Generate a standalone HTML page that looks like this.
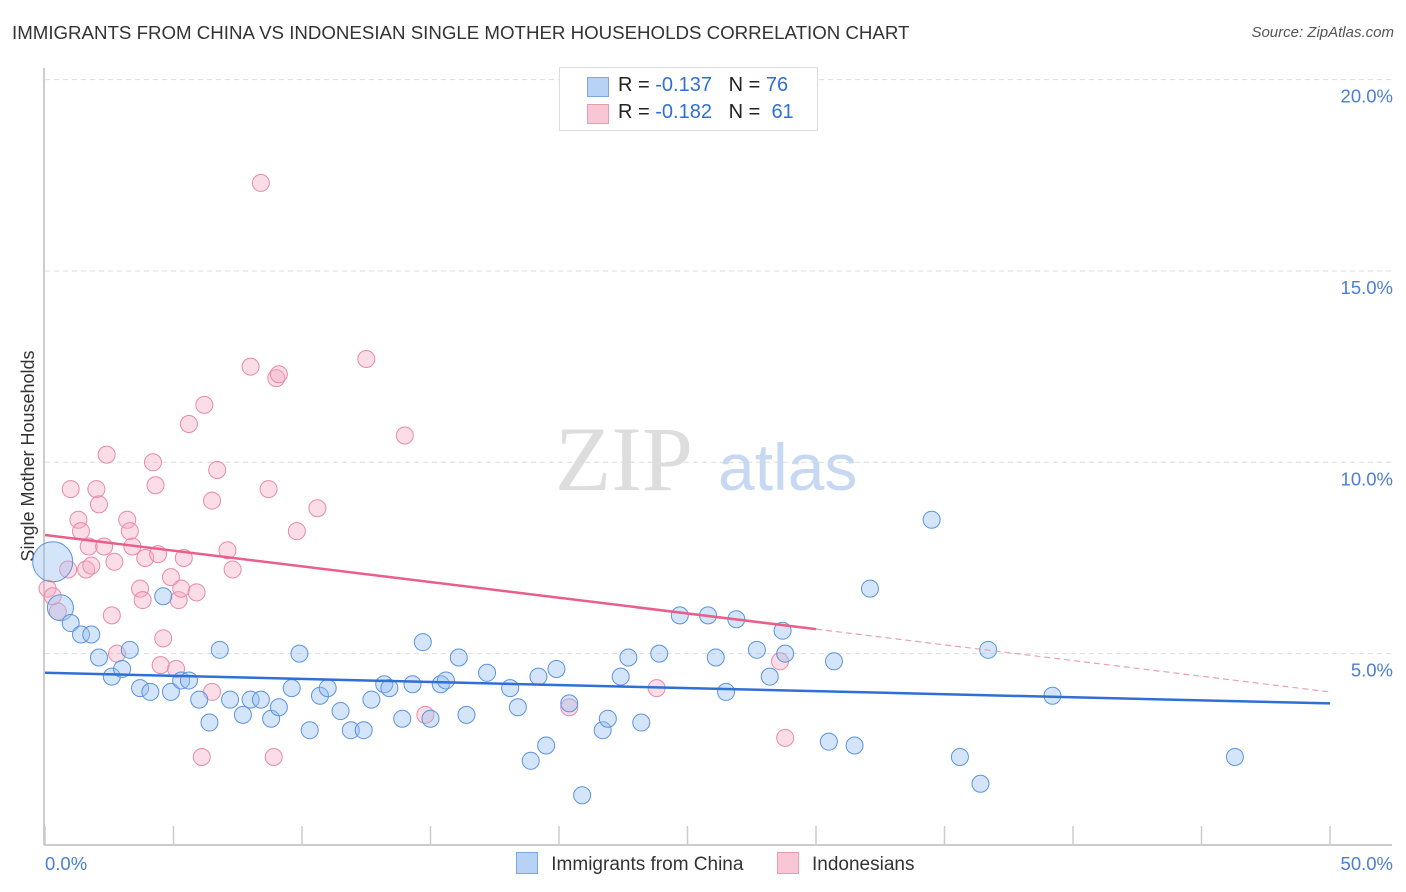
<!DOCTYPE html>
<html><head><meta charset="utf-8">
<style>
body{margin:0;background:#fff;font-family:"Liberation Sans",sans-serif;}
#wrap{position:relative;width:1406px;height:892px;overflow:hidden;}
.t{position:absolute;white-space:nowrap;}
</style></head>
<body>
<div id="wrap">
<div class="t" style="left:12px;top:22px;font-size:18.7px;color:#333;">IMMIGRANTS FROM CHINA VS INDONESIAN SINGLE MOTHER HOUSEHOLDS CORRELATION CHART</div>
<div class="t" style="right:12px;top:24px;font-size:15px;color:#555;font-style:italic;">Source: ZipAtlas.com</div>
<svg id="svg" width="1406" height="892" style="position:absolute;left:0;top:0;"></svg>
</div>
<script>
const xTicks=[0,5,10,15,20,25,30,35,40,45,50];
const yTicks=[5,10,15,20];
const blueX=[0.3,0.6,1.0,1.4,1.8,2.1,2.6,3.0,3.3,3.7,4.1,4.6,4.9,5.3,5.6,6.0,6.4,6.8,7.2,7.7,8.0,8.4,8.8,9.1,9.6,9.9,10.3,10.7,11.0,11.5,11.9,12.4,12.7,13.2,13.4,13.9,14.3,14.7,15.0,15.4,15.6,16.1,16.4,17.2,18.1,18.4,18.9,19.2,19.5,19.9,20.4,20.9,21.7,21.9,22.4,22.7,23.2,23.9,24.7,25.8,26.1,26.5,26.9,27.7,28.2,28.7,28.8,30.5,30.7,31.5,32.1,34.5,35.6,36.4,36.7,39.2,46.3];
const blueY=[7.4,6.2,5.8,5.5,5.5,4.9,4.4,4.6,5.1,4.1,4.0,6.5,4.0,4.3,4.3,3.8,3.2,5.1,3.8,3.4,3.8,3.8,3.3,3.6,4.1,5.0,3.0,3.9,4.1,3.5,3.0,3.0,3.8,4.2,4.1,3.3,4.2,5.3,3.3,4.2,4.3,4.9,3.4,4.5,4.1,3.6,2.2,4.4,2.6,4.6,3.7,1.3,3.0,3.3,4.4,4.9,3.2,5.0,6.0,6.0,4.9,4.0,5.9,5.1,4.4,5.6,5.0,2.7,4.8,2.6,6.7,8.5,2.3,1.6,5.1,3.9,2.3];
const pinkX=[0.1,0.3,0.5,0.9,1.0,1.3,1.4,1.6,1.7,1.8,2.0,2.1,2.3,2.4,2.6,2.7,2.8,3.2,3.3,3.4,3.7,3.8,3.9,4.2,4.3,4.4,4.6,4.5,4.9,5.1,5.2,5.3,5.4,5.6,5.9,6.1,6.2,6.5,6.5,6.7,7.1,7.3,8.0,8.4,8.7,8.9,9.0,9.1,9.8,10.6,12.5,14.0,14.8,20.4,23.8,28.6,28.8];
const pinkY=[6.7,6.5,6.1,7.2,9.3,8.5,8.2,7.2,7.8,7.3,9.3,8.9,7.8,10.2,6.0,7.4,5.0,8.5,8.2,7.8,6.7,6.4,7.5,10.0,9.4,7.6,5.4,4.7,7.0,4.6,6.4,6.7,7.5,11.0,6.6,2.3,11.5,9.0,4.0,9.8,7.7,7.2,12.5,17.3,9.3,2.3,12.2,12.3,8.2,8.8,12.7,10.7,3.4,3.6,4.1,4.8,2.8];
const blueBig={0:20,1:13};
const blueTrend=[4.5,3.7];
const pinkTrend=[8.1,4.0];
const pinkSolidEnd=30;

const X0=45,X1=1330,Y0=845,YS=38.27;
const sx=v=>X0+(v/50)*(X1-X0);
const sy=v=>Y0-v*YS;
const svg=document.getElementById('svg');
const NS='http://www.w3.org/2000/svg';
function mk(tag,attrs){const e=document.createElementNS(NS,tag);for(const k in attrs)e.setAttribute(k,attrs[k]);svg.appendChild(e);return e;}

yTicks.forEach(v=>{
 const l=mk('line',{x1:45,x2:1392,y1:sy(v),y2:sy(v),stroke:'#ddd','stroke-dasharray':'5,4'});
 
 
 const t=mk('text',{x:1393,y:sy(v)+23,'text-anchor':'end','font-size':'18.5',fill:'#4a7fd4','font-family':'Liberation Sans, sans-serif'});
 t.textContent=v.toFixed(1)+'%';
 
 
});
let w=mk('text',{x:555,y:490,'font-size':'92','font-family':'Liberation Serif, serif',fill:'#ddd'});w.textContent='ZIP';


w=mk('text',{x:718,y:490,'font-size':'66','font-family':'Liberation Sans, sans-serif',fill:'#c7d9f2'});w.textContent='atlas';


let ax=mk('line',{x1:44,x2:44,y1:68,y2:845,stroke:'#bbb','stroke-width':1.5});


ax=mk('line',{x1:44,x2:1392,y1:845,y2:845,stroke:'#bbb','stroke-width':1.5});


xTicks.forEach(v=>{
 const l=mk('line',{x1:sx(v),x2:sx(v),y1:826,y2:845,stroke:'#ccc','stroke-width':1.5});
 
 
});
let tl=mk('text',{x:45,y:870,'font-size':'18.5',fill:'#4a7fd4','font-family':'Liberation Sans, sans-serif'});tl.textContent=xTicks[0].toFixed(1)+'%';


tl=mk('text',{x:1393,y:870,'text-anchor':'end','font-size':'18.5',fill:'#4a7fd4','font-family':'Liberation Sans, sans-serif'});tl.textContent=xTicks[xTicks.length-1].toFixed(1)+'%';


tl=mk('text',{x:34,y:456,'text-anchor':'middle','font-size':'18','fill':'#333','font-family':'Liberation Sans, sans-serif',transform:'rotate(-90 34 456)'});tl.textContent='Single Mother Households';



pinkX.forEach((x,i)=>{
 const c=mk('circle',{cx:sx(x),cy:sy(pinkY[i]),r:8.5,fill:'rgba(246,170,195,0.4)',stroke:'#e88aa8','stroke-width':1});
 
 
});
blueX.forEach((x,i)=>{
 const r=blueBig[i]||8.5;
 const c=mk('circle',{cx:sx(x),cy:sy(blueY[i]),r:r,fill:'rgba(150,190,240,0.4)',stroke:'#5a93e0','stroke-width':1});
 
 
});
let tr=mk('line',{x1:sx(0),y1:sy(blueTrend[0]),x2:sx(50),y2:sy(blueTrend[1]),stroke:'#2f6fd6','stroke-width':2.5});


const pAt=v=>pinkTrend[0]+(pinkTrend[1]-pinkTrend[0])*v/50;
tr=mk('line',{x1:sx(0),y1:sy(pinkTrend[0]),x2:sx(pinkSolidEnd),y2:sy(pAt(pinkSolidEnd)),stroke:'#e8608a','stroke-width':2.5});


tr=mk('line',{x1:sx(pinkSolidEnd),y1:sy(pAt(pinkSolidEnd)),x2:sx(50),y2:sy(pinkTrend[1]),stroke:'#e8a0b8','stroke-width':1.2,'stroke-dasharray':'6,4'});


</script>
<div class="t" style="left:559px;top:67px;width:257px;height:62px;border:1px solid #ddd;background:#fff;font-size:20px;">
 <div style="position:absolute;left:27px;top:9px;width:20px;height:18px;background:#b7d2f5;border:1px solid #7aa7e6;"></div>
 <div style="position:absolute;left:58px;top:6px;color:#222;">R = <span style="color:#2f6fd6">-0.137</span>&nbsp;&nbsp;&nbsp;N = <span style="color:#2f6fd6">76</span></div>
 <div style="position:absolute;left:27px;top:36px;width:20px;height:18px;background:#f9c6d6;border:1px solid #ea9ab4;"></div>
 <div style="position:absolute;left:58px;top:33px;color:#222;">R = <span style="color:#2f6fd6">-0.182</span>&nbsp;&nbsp;&nbsp;N = &nbsp;<span style="color:#2f6fd6">61</span></div>
</div>
<div class="t" style="left:516px;top:852px;font-size:19px;color:#333;">
 <span style="display:inline-block;width:20px;height:20px;background:#b7d2f5;border:1px solid #7aa7e6;vertical-align:-4px;"></span>
 <span style="margin-left:8px;">Immigrants from China</span>
 <span style="display:inline-block;width:20px;height:20px;background:#f9c6d6;border:1px solid #ea9ab4;vertical-align:-4px;margin-left:28px;"></span>
 <span style="margin-left:8px;">Indonesians</span>
</div>
</body></html>
